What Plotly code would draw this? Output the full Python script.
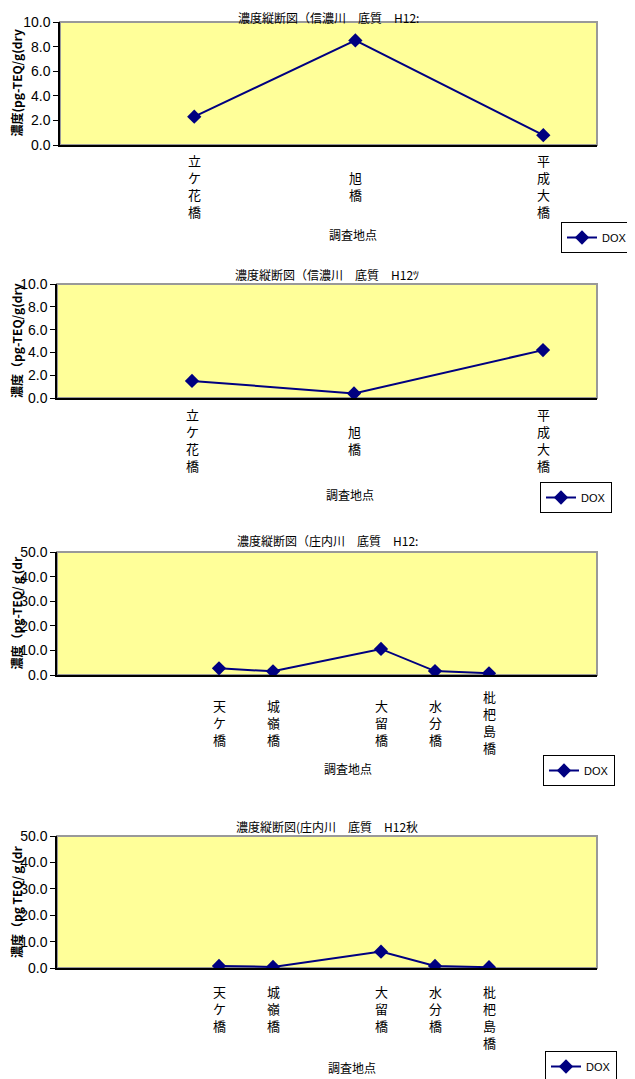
import plotly.graph_objects as go

FONT = "Noto Sans CJK JP"
PAGE_W, PAGE_H = 635, 1079
OFF = 8  # default page margin around the plot div
W, H = PAGE_W - OFF, PAGE_H - OFF

# ---------------- data ----------------
shinano_sites = ["立ケ花橋", "旭橋", "平成大橋"]
shinano_pos = [25, 55, 90]
shinano_a_vals = [2.3, 8.5, 0.8]
shinano_b_vals = [1.5, 0.4, 4.2]

shonai_sites = ["天ケ橋", "城嶺橋", "大留橋", "水分橋", "枇杷島橋"]
shonai_pos = [30, 40, 60, 70, 80]
shonai_a_vals = [2.7, 1.5, 10.6, 1.6, 0.7]
shonai_b_vals = [0.8, 0.4, 6.2, 0.8, 0.3]

titles = [
    "濃度縦断図（信濃川　底質　H12:",
    "濃度縦断図（信濃川　底質　H12ﾂ",
    "濃度縦断図（庄内川　底質　H12:",
    "濃度縦断図(庄内川　底質　H12秋",
]
y_titles = [
    "濃度(pg-TEQ/g(dry",
    "濃度（pg-TEQ/g(dry",
    "濃度（pg-TEQ/ｇ(dr",
    "濃度（pg TEQ/ｇ(dr",
]
y_max = [10, 10, 50, 50]
y_step = [2, 2, 10, 10]
x_title = "調査地点"
series_name = "DOX"

charts = [
    (shinano_sites, shinano_pos, shinano_a_vals),
    (shinano_sites, shinano_pos, shinano_b_vals),
    (shonai_sites, shonai_pos, shonai_a_vals),
    (shonai_sites, shonai_pos, shonai_b_vals),
]

# ---------------- layout (page pixels) ----------------
boxes = [(60, 597, 22, 145), (57, 597, 284, 398), (57, 597, 552, 675), (57, 597, 836, 968)]
title_pos = [(8, "top"), (274, "middle"), (540, "middle"), (826, "middle")]
xtitle_xy = [(353, 234), (350, 495), (348, 768), (352, 1067)]
label_y = [(186, "middle"), (440, "middle"), (722, "middle"), (980, "top")]
legend_rt = [(633, 222), (612, 482), (615, 755), (617, 1051)]


def px(x):
    return (x - OFF) / W


def py(y):
    return 1 - (y - OFF) / H


fig = go.Figure()
annotations = []
shapes = []

for i, ((sites, pos, vals), box) in enumerate(zip(charts, boxes)):
    n = "" if i == 0 else str(i + 1)
    xa, ya = "x" + n, "y" + n
    x0, x1, y0, y1 = box
    lg = "legend" + n
    fig.add_trace(go.Scatter(
        x=pos, y=vals, mode="lines+markers", name=series_name,
        xaxis=xa, yaxis=ya, legend=lg,
        line=dict(color="#000080", width=2),
        marker=dict(symbol="diamond", size=11, color="#000080"),
        showlegend=True,
    ))
    fig.update_layout({
        "xaxis" + n: dict(
            domain=[px(x0), px(x1)], range=[0, 100], anchor=ya,
            showgrid=False, zeroline=False, showticklabels=False, ticks="",
            showline=True, linecolor="#000000", linewidth=1.5,
            automargin=False,
        ),
        "yaxis" + n: dict(
            domain=[py(y1), py(y0)], range=[0, y_max[i]], anchor=xa,
            dtick=y_step[i], tick0=0, tickformat=".1f",
            showgrid=False, zeroline=False,
            showline=True, linecolor="#000000", linewidth=1.5,
            ticks="outside", ticklen=5, tickcolor="#000000", tickwidth=1,
            tickfont=dict(family="Liberation Sans", size=14, color="#000000"),
            automargin=False,
        ),
        lg: dict(
            x=px(legend_rt[i][0]), y=py(legend_rt[i][1]),
            xanchor="right", yanchor="top",
            bordercolor="#000000", borderwidth=1, bgcolor="#FFFFFF",
            font=dict(family="Liberation Sans", size=11, color="#000000"),
            itemwidth=30, tracegroupgap=0,
        ),
    })
    # gray plot-area frame
    shapes.append(dict(
        type="rect", xref=xa + " domain", yref=ya + " domain",
        x0=0, x1=1, y0=0, y1=1, layer="below",
        line=dict(color="#999999", width=2), fillcolor="#FFFF99",
    ))
    # title
    annotations.append(dict(
        text=titles[i], x=(px(x0) + px(x1)) / 2, y=py(title_pos[i][0]),
        xref="paper", yref="paper", xanchor="center", yanchor=title_pos[i][1],
        showarrow=False, borderpad=0,
        font=dict(family=FONT, size=12, color="#000000"),
    ))
    # y title
    annotations.append(dict(
        text="<b>" + y_titles[i] + "</b>", x=px(16), y=py((y0 + y1) / 2),
        xref="paper", yref="paper", xanchor="center", yanchor="middle",
        textangle=-90, showarrow=False,
        font=dict(family=FONT, size=12, color="#000000"),
    ))
    # x title
    annotations.append(dict(
        text=x_title, x=px(xtitle_xy[i][0]), y=py(xtitle_xy[i][1]),
        xref="paper", yref="paper", xanchor="center", yanchor="middle",
        showarrow=False, font=dict(family=FONT, size=12, color="#000000"),
    ))
    # vertical site labels
    for s, p in zip(sites, pos):
        annotations.append(dict(
            text="<br>".join(list(s)), x=p, xref=xa,
            y=py(label_y[i][0]), yref="paper",
            xanchor="center", yanchor=label_y[i][1],
            showarrow=False, font=dict(family=FONT, size=13, color="#000000"),
        ))

fig.update_layout(
    width=W, height=H, autosize=False,
    margin=dict(l=0, r=0, t=0, b=0, pad=0, autoexpand=False),
    paper_bgcolor="#FFFFFF", plot_bgcolor="rgba(0,0,0,0)",
    annotations=annotations, shapes=shapes,
    showlegend=True,
)

fig.write_html("out.html")
